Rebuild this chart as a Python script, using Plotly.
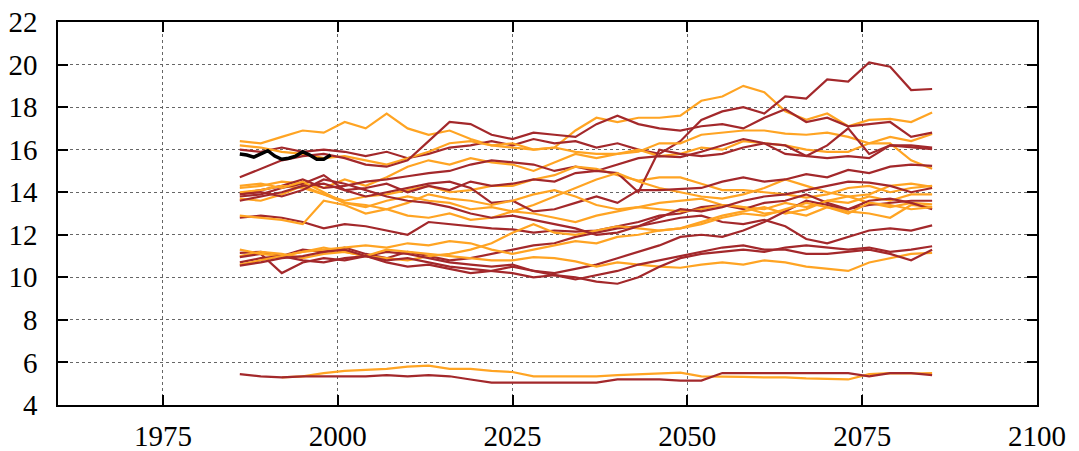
import plotly.graph_objects as go

# %%
# data (every 3 years, 1986-2085)
years = list(range(1986, 2086, 3))

red_runs = [
    [16.0, 15.9, 16.1, 15.9, 16.0, 15.9, 15.7, 15.9, 15.6, 15.8, 16.1, 16.2, 16.4, 16.2, 16.5, 16.3, 16.4,
     16.1, 16.3, 16.0, 15.8, 16.4, 17.4, 17.8, 18.0, 17.7, 18.5, 18.4, 19.3, 19.2, 20.1, 19.9, 18.8, 18.85],
    [14.7, 15.1, 15.5, 15.7, 15.8, 15.6, 15.3, 15.2, 15.5, 16.4, 17.3, 17.2, 16.7, 16.5, 16.8, 16.7, 16.6,
     17.2, 17.6, 17.2, 17.0, 16.9, 17.1, 17.2, 17.0, 17.5, 17.9, 17.3, 17.5, 17.1, 17.2, 17.3, 16.6, 16.8],
    [13.95, 14.1, 14.3, 14.6, 14.2, 14.3, 14.5, 14.6, 14.75, 14.9, 15.0, 15.3, 15.5, 15.4, 15.3, 15.0, 15.2,
     15.0, 15.3, 15.6, 15.7, 15.65, 15.9, 16.2, 16.5, 16.3, 16.2, 15.7, 16.2, 17.0, 15.8, 16.2, 16.2, 16.1],
    [13.8, 13.9, 14.2, 14.4, 14.8, 14.1, 14.2, 14.4, 14.0, 14.3, 14.1, 14.5, 14.3, 14.4, 14.6, 14.5, 14.9,
     15.0, 14.9, 14.0, 16.0, 15.8, 15.7, 15.8, 16.1, 16.3, 15.8, 15.7, 15.6, 15.7, 15.6, 16.2, 16.1, 16.03],
    [13.6, 13.8, 14.0, 14.3, 14.4, 14.1, 13.8, 14.0, 14.2, 14.4, 14.5, 14.2, 13.5, 13.6, 13.1, 13.2, 13.5,
     13.8, 13.5, 14.1, 14.1, 14.15, 14.2, 14.5, 14.7, 14.5, 14.6, 14.85, 14.7, 15.05, 14.9, 15.2, 15.3, 15.24],
    [12.8, 12.9, 12.8, 12.6, 12.3, 12.5, 12.4, 12.2, 12.0, 12.6, 12.5, 12.4, 12.3, 12.25, 12.1, 12.2, 12.15,
     12.2, 12.4, 12.6, 12.9, 13.0, 13.3, 13.4, 13.2, 13.5, 13.6, 13.9, 13.5, 13.2, 13.4, 13.5, 13.6, 13.6],
    [11.15, 11.2, 11.0, 11.3, 11.2, 11.4, 11.1, 10.9, 11.2, 11.0, 10.8, 10.9, 11.1, 11.3, 11.5, 11.6, 11.9,
     12.1, 12.3, 12.4, 12.6, 12.8, 12.9, 12.6, 12.5, 12.7, 12.4, 11.8, 11.6, 11.9, 12.2, 12.3, 12.2, 12.44],
    [10.95, 11.1, 10.2, 10.7, 10.9, 10.8, 11.0, 11.2, 11.1, 10.9, 10.7, 10.6, 10.5, 10.6, 10.3, 10.2, 10.4,
     10.6, 10.9, 11.2, 11.5, 11.9, 12.0, 11.9, 12.2, 12.6, 13.1, 13.6, 13.4, 13.2, 13.6, 13.7, 13.5, 13.2],
    [10.7, 10.9, 11.0, 10.8, 10.7, 10.9, 11.0, 10.7, 10.5, 10.6, 10.4, 10.2, 10.3, 10.5, 10.3, 10.1, 10.0,
     9.8, 9.7, 10.0, 10.5, 10.9, 11.1, 11.2, 11.3, 11.2, 11.4, 11.5, 11.4, 11.3, 11.4, 11.2, 11.3, 11.46],
    [10.55, 10.7, 10.9, 11.0, 11.2, 11.3, 11.0, 10.8, 10.9, 10.7, 10.5, 10.4, 10.3, 10.2, 10.0, 10.1, 9.9,
     10.1, 10.3, 10.6, 10.8, 11.0, 11.2, 11.4, 11.5, 11.3, 11.3, 11.1, 11.1, 11.2, 11.3, 11.1, 10.8, 11.3],
    [13.9, 14.0, 13.8, 14.1, 14.6, 14.4, 14.1, 13.8, 13.6, 13.5, 13.3, 13.0, 12.8, 12.9, 12.7, 12.5, 12.3,
     12.0, 12.1, 12.4, 12.8, 13.2, 13.1, 13.3, 13.6, 13.8, 13.9, 14.1, 14.3, 14.5, 14.45, 14.3, 14.0, 14.2],
]

orange_runs = [
    [16.4, 16.3, 16.6, 16.9, 16.8, 17.3, 17.0, 17.7, 17.0, 16.7, 16.9, 16.5, 16.2, 16.1, 16.0, 16.1, 16.9,
     17.5, 17.3, 17.5, 17.5, 17.6, 18.3, 18.5, 19.0, 18.7, 17.8, 17.4, 17.7, 17.1, 17.4, 17.45, 17.3, 17.75],
    [16.2, 16.1, 15.9, 15.8, 15.6, 15.7, 15.5, 15.3, 15.6, 15.9, 16.3, 16.4, 16.2, 16.3, 16.0, 16.1, 15.9,
     15.8, 15.8, 15.9, 16.3, 16.3, 16.7, 16.8, 16.9, 16.9, 16.75, 16.7, 16.8, 16.6, 16.3, 16.6, 16.4, 16.74],
    [14.2, 14.3, 14.5, 14.4, 14.2, 14.6, 14.3, 14.7, 15.2, 15.5, 15.3, 15.6, 15.4, 15.3, 15.0, 15.4, 15.8,
     15.6, 15.8, 16.0, 15.7, 15.8, 16.1, 16.0, 16.4, 16.3, 16.2, 16.0, 15.9, 15.9, 16.3, 16.3, 15.5, 15.1],
    [14.0, 14.1, 14.3, 14.2, 13.9, 13.6, 13.8, 13.9, 14.1, 14.3, 14.0, 14.1, 14.3, 14.3, 14.6, 14.8, 15.2,
     15.1, 14.8, 14.55, 14.7, 14.7, 14.4, 14.1, 14.1, 14.0, 13.9, 13.75, 13.9, 14.2, 14.3, 14.0, 14.2, 14.3],
    [13.7, 13.6, 13.9, 14.3, 13.9, 13.5, 13.3, 13.6, 13.8, 13.6, 13.5, 13.2, 13.3, 13.1, 13.4, 13.8, 14.2,
     14.6, 14.9, 14.5, 14.2, 14.0, 13.8, 13.7, 13.9, 14.2, 14.6, 14.3, 14.0, 13.8, 13.9, 14.3, 14.4, 14.25],
    [14.3, 14.4, 14.2, 14.5, 14.0, 13.5, 13.4, 13.2, 13.5, 13.9, 13.7, 13.6, 13.4, 13.6, 13.9, 14.1, 13.8,
     13.4, 13.2, 13.3, 13.5, 13.6, 13.7, 13.4, 13.3, 13.2, 13.5, 13.3, 13.6, 13.8, 13.5, 13.3, 13.5, 13.43],
    [12.9, 12.8, 12.7, 12.5, 13.6, 13.4, 13.0, 13.2, 12.9, 12.8, 13.0, 12.7, 12.8, 13.1, 13.0, 12.8, 12.6,
     12.9, 13.1, 13.3, 13.2, 13.1, 13.2, 13.4, 13.3, 13.0, 13.1, 12.9, 13.3, 13.1, 13.0, 12.8, 13.4, 13.3],
    [11.0, 11.2, 11.1, 10.9, 11.1, 11.2, 11.0, 10.9, 10.8, 11.0, 11.1, 11.3, 11.6, 12.1, 12.5, 12.1, 12.0,
     12.2, 12.4, 12.3, 12.2, 12.3, 12.6, 12.9, 13.1, 13.3, 13.0, 13.2, 13.6, 13.5, 13.8, 13.6, 13.9, 13.9],
    [11.3, 11.1, 11.0, 11.2, 11.4, 11.2, 11.0, 11.3, 11.2, 11.1, 11.0, 10.9, 10.8, 10.8, 10.95, 10.9, 10.75,
     10.5, 10.7, 10.6, 10.5, 10.45, 10.6, 10.7, 10.6, 10.8, 10.7, 10.5, 10.4, 10.3, 10.7, 10.9, 11.1, 11.15],
    [10.6, 10.8, 11.0, 11.2, 11.3, 11.4, 11.5, 11.4, 11.6, 11.5, 11.7, 11.6, 11.3, 11.1, 11.3, 11.5, 11.7,
     11.6, 11.9, 12.0, 12.2, 12.3, 12.5, 12.8, 13.0, 12.9, 13.2, 13.5, 13.3, 13.0, 13.5, 13.4, 13.2, 13.3],
]

# low pair near 5
low_red = [5.45, 5.35, 5.3, 5.35, 5.35, 5.35, 5.35, 5.4, 5.35, 5.4, 5.35, 5.2, 5.05, 5.05, 5.05, 5.05, 5.05,
           5.05, 5.2, 5.2, 5.2, 5.15, 5.15, 5.5, 5.5, 5.5, 5.5, 5.5, 5.5, 5.5, 5.35, 5.5, 5.5, 5.4]
low_orange_years = list(range(1992, 2086, 3))
low_orange = [5.3, 5.35, 5.5, 5.6, 5.65, 5.7, 5.8, 5.85, 5.7, 5.7, 5.6, 5.55, 5.35, 5.35, 5.38, 5.35,
              5.4, 5.45, 5.5, 5.52, 5.35, 5.35, 5.32, 5.3, 5.3, 5.25, 5.22, 5.2, 5.45, 5.5, 5.48, 5.5]

# observed record
obs_years = list(range(1986, 2000))
obs_values = [15.8, 15.75, 15.65, 15.8, 15.95, 15.7, 15.55, 15.6, 15.7, 15.9, 15.75, 15.55, 15.55, 15.75]

x_ticks = [1975, 2000, 2025, 2050, 2075, 2100]
y_ticks = list(range(4, 23, 2))

RED = "#a3282b"
ORANGE = "#ffa423"

# %%
fig = go.Figure()

# interleave the two colours so neither family sits fully on top
for i in range(max(len(red_runs), len(orange_runs))):
    if i < len(orange_runs):
        fig.add_trace(go.Scatter(x=years, y=orange_runs[i], mode="lines",
                                 line=dict(color=ORANGE, width=2.2), showlegend=False))
    if i < len(red_runs):
        fig.add_trace(go.Scatter(x=years, y=red_runs[i], mode="lines",
                                 line=dict(color=RED, width=2.2), showlegend=False))

fig.add_trace(go.Scatter(x=low_orange_years, y=low_orange, mode="lines",
                         line=dict(color=ORANGE, width=2.2), showlegend=False))
fig.add_trace(go.Scatter(x=years, y=low_red, mode="lines",
                         line=dict(color=RED, width=2.2), showlegend=False))
fig.add_trace(go.Scatter(x=obs_years, y=obs_values, mode="lines",
                         line=dict(color="black", width=3.5), showlegend=False))

axis_style = dict(
    showline=True, mirror="ticks", linecolor="black", linewidth=1.5,
    ticks="inside", ticklen=10, tickwidth=1.5, tickcolor="black",
    showgrid=True, gridcolor="#666666", gridwidth=1, griddash="dot",
    zeroline=False, automargin=False,
    tickfont=dict(family="Liberation Serif", size=29, color="black"),
)

fig.update_xaxes(range=[1960, 2100], tickvals=x_ticks, ticklabelstandoff=4, **axis_style)
fig.update_yaxes(range=[4, 22], tickvals=y_ticks, ticklabelstandoff=13, **axis_style)

fig.update_layout(
    width=1079, height=451,
    margin=dict(l=58, r=42, t=22, b=46),
    plot_bgcolor="white", paper_bgcolor="white",
)

# drop the default page margin so the figure sits at the window corner
fig.write_html("out.html", config={"displayModeBar": False},
               post_script="document.body.style.margin = '0';")
